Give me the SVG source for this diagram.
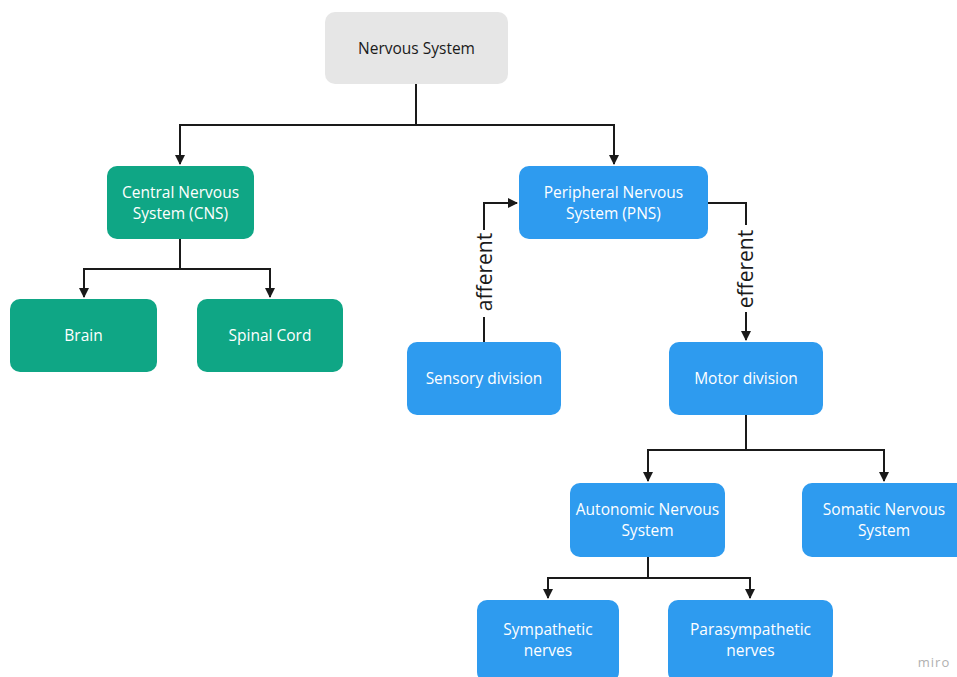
<svg xmlns="http://www.w3.org/2000/svg" width="957" height="677" viewBox="0 0 957 677">
<defs>
<marker id="arr" viewBox="0 0 10 10" refX="9" refY="5" markerWidth="10" markerHeight="10" markerUnits="userSpaceOnUse" orient="auto">
<path d="M0,0 L10,5 L0,10 Z" fill="#1a1a1a"/>
</marker>
<style>
.n rect{rx:10;ry:10}
.g rect{fill:#e6e6e6}
.t rect{fill:#0fa685}
.b rect{fill:#2e9bef}
text{font-family:"Open Sans","Noto Sans","Liberation Sans",sans-serif;font-size:15.5px;text-anchor:middle}
.n text{fill:#ffffff}
.g text{fill:#1a1a1a}
.c path{fill:none;stroke:#1a1a1a;stroke-width:2}
.lbl{font-size:21px;fill:#1a1a1a}
</style>
</defs>
<rect width="957" height="677" fill="#ffffff"/>
<g class="c">
<path d="M416,84 V125 H180 V164" marker-end="url(#arr)"/>
<path d="M416,125 H614 V164" marker-end="url(#arr)"/>
<path d="M180,239 V269 H84 V297" marker-end="url(#arr)"/>
<path d="M180,269 H270 V297" marker-end="url(#arr)"/>
<path d="M484,342 V317"/>
<path d="M484,230 V203 H517" marker-end="url(#arr)"/>
<path d="M708,203 H746 V225"/>
<path d="M746,312 V340" marker-end="url(#arr)"/>
<path d="M746,415 V450 H648 V481" marker-end="url(#arr)"/>
<path d="M746,450 H884 V481" marker-end="url(#arr)"/>
<path d="M648,557 V578 H548 V598" marker-end="url(#arr)"/>
<path d="M648,578 H750 V598" marker-end="url(#arr)"/>
<text class="lbl" transform="translate(492,272) rotate(-90)">afferent</text>
<text class="lbl" transform="translate(753,269) rotate(-90)">efferent</text>
</g>
<g id="nervous" class="n g"><rect x="325" y="12" width="183" height="72"/><text x="416.5" y="54">Nervous System</text></g>
<g id="cns" class="n t"><rect x="107" y="166" width="147" height="73"/><text x="180.5" y="198">Central Nervous</text><text x="180.5" y="219">System (CNS)</text></g>
<g id="brain" class="n t"><rect x="10" y="299" width="147" height="73"/><text x="83.5" y="341">Brain</text></g>
<g id="spinal" class="n t"><rect x="197" y="299" width="146" height="73"/><text x="270" y="341">Spinal Cord</text></g>
<g id="pns" class="n b"><rect x="519" y="166" width="189" height="73"/><text x="613.5" y="198">Peripheral Nervous</text><text x="613.5" y="219">System (PNS)</text></g>
<g id="sensory" class="n b"><rect x="407" y="342" width="154" height="73"/><text x="484" y="384">Sensory division</text></g>
<g id="motor" class="n b"><rect x="669" y="342" width="154" height="73"/><text x="746" y="384">Motor division</text></g>
<g id="autonomic" class="n b"><rect x="570" y="483" width="155" height="74"/><text x="647.5" y="515">Autonomic Nervous</text><text x="647.5" y="536">System</text></g>
<g id="somatic" class="n b"><rect x="802" y="483" width="165" height="74"/><text x="884" y="515">Somatic Nervous</text><text x="884" y="536">System</text></g>
<g id="sympathetic" class="n b"><rect x="477" y="600" width="142" height="82"/><text x="548" y="635">Sympathetic</text><text x="548" y="656">nerves</text></g>
<g id="parasympathetic" class="n b"><rect x="668" y="600" width="165" height="82"/><text x="750.5" y="635">Parasympathetic</text><text x="750.5" y="656">nerves</text></g>
<text x="934" y="667" style="font-size:13px;fill:#b0b0b0;letter-spacing:1px">miro</text>
</svg>
